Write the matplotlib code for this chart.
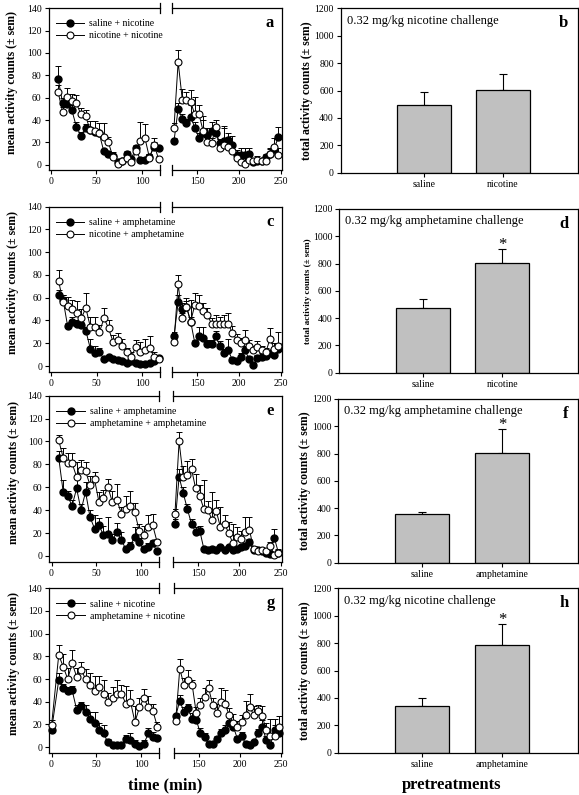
import matplotlib
matplotlib.use('Agg')
import matplotlib.pyplot as plt
import numpy as np

plt.rcParams['font.family'] = ['Liberation Serif', 'DejaVu Serif']

# ---------------- data ----------------
t_left = [8, 13, 18, 23, 28, 33, 38, 43, 48, 53, 58, 63, 68, 73, 78, 83, 88, 93, 98, 103, 108, 113, 118]
t_left_g = [0, 8, 13, 18, 23, 28, 33, 38, 43, 48, 53, 58, 63, 68, 73, 78, 83, 88, 93, 98, 103, 108, 113, 118]
t_right = [122, 127, 132, 137, 142, 147, 152, 157, 162, 167, 172, 177, 182, 187, 192, 197, 202, 207, 212, 217, 222, 227, 232, 237, 242, 247]

# panel a
a_sal_L = [77, 55, 54, 49, 34, 26, 33, 31, 29, 28, 12, 10, 8, 2, 3, 10, 5, 15, 4, 4, 7, 16, 15]
a_sal_L_err = [11, 5, 4, 4, 4, 3, 3, 3, 3, 2, 2, 2, 2, 1, 1, 2, 2, 3, 2, 2, 3, 4, 3]
a_pre_L = [65, 47, 61, 57, 55, 45, 44, 31, 30, 28, 25, 20, 7, 1, 3, 6, 2, 12, 21, 24, 6, 18, 5]
a_pre_L_err = [6, 5, 8, 6, 7, 6, 5, 8, 9, 9, 12, 5, 4, 2, 2, 4, 3, 5, 17, 12, 4, 6, 3]
a_sal_R = [21, 50, 41, 37, 43, 33, 24, 28, 27, 30, 28, 19, 21, 22, 18, 9, 9, 9, 10, 2, 3, 3, 7, 10, 14, 25]
a_sal_R_err = [3, 5, 4, 4, 10, 5, 4, 12, 6, 8, 5, 4, 12, 6, 8, 4, 6, 6, 5, 2, 2, 3, 3, 4, 4, 9]
a_pre_R = [33, 92, 58, 58, 56, 45, 45, 30, 20, 19, 34, 15, 18, 16, 12, 6, 2, 1, 4, 3, 4, 3, 3, 10, 16, 9]
a_pre_R_err = [4, 11, 10, 7, 11, 16, 8, 14, 6, 5, 6, 6, 17, 6, 6, 5, 7, 7, 5, 3, 4, 3, 3, 5, 8, 6]

# panel c
c_sal_L = [62, 58, 35, 39, 37, 36, 31, 15, 11, 12, 6, 8, 6, 5, 4, 3, 4, 3, 2, 2, 3, 4, 7]
c_sal_L_err = [5, 4, 3, 4, 3, 3, 3, 9, 7, 4, 2, 2, 2, 1, 1, 1, 1, 1, 1, 1, 1, 1, 2]
c_pre_L = [75, 56, 53, 50, 47, 42, 51, 34, 34, 30, 42, 33, 21, 23, 18, 12, 8, 17, 12, 14, 16, 8, 6]
c_pre_L_err = [9, 6, 8, 8, 10, 8, 13, 9, 9, 6, 9, 7, 6, 6, 6, 4, 4, 6, 9, 10, 10, 4, 2]
c_sal_R = [26, 56, 50, 52, 39, 20, 26, 25, 19, 19, 26, 18, 11, 14, 5, 4, 8, 14, 6, 1, 7, 8, 9, 11, 10, 15]
c_sal_R_err = [4, 6, 5, 5, 4, 3, 8, 9, 4, 4, 5, 4, 4, 10, 3, 2, 3, 4, 3, 2, 3, 3, 3, 3, 3, 5]
c_pre_R = [21, 72, 42, 52, 39, 54, 53, 48, 45, 37, 37, 37, 37, 37, 29, 23, 20, 23, 18, 14, 17, 14, 12, 24, 15, 18]
c_pre_R_err = [3, 8, 5, 8, 19, 10, 9, 7, 6, 5, 8, 6, 8, 10, 6, 5, 5, 9, 5, 4, 5, 4, 4, 9, 5, 12]

# panel e
e_sal_L = [86, 56, 52, 44, 59, 40, 56, 34, 24, 27, 18, 19, 14, 21, 14, 6, 9, 17, 12, 6, 8, 11, 4]
e_sal_L_err = [6, 10, 5, 5, 8, 5, 9, 6, 12, 6, 8, 15, 5, 8, 7, 3, 3, 8, 4, 3, 3, 3, 2]
e_pre_L = [101, 86, 81, 81, 69, 75, 74, 62, 67, 47, 51, 60, 47, 49, 37, 41, 44, 38, 22, 18, 25, 27, 12]
e_pre_L_err = [5, 8, 9, 9, 13, 9, 8, 8, 6, 9, 7, 7, 10, 14, 6, 11, 13, 8, 6, 8, 11, 10, 3]
e_sal_R = [28, 69, 55, 41, 28, 21, 22, 6, 5, 6, 5, 8, 5, 8, 5, 6, 8, 9, 12, 5, 5, 4, 3, 2, 16, 3]
e_sal_R_err = [4, 7, 5, 4, 4, 4, 4, 2, 2, 2, 2, 2, 2, 2, 2, 2, 2, 2, 3, 2, 2, 2, 2, 2, 8, 3]
e_pre_R = [37, 100, 69, 71, 76, 59, 52, 41, 40, 31, 39, 25, 28, 20, 11, 17, 15, 21, 23, 6, 4, 5, 4, 9, 1, 3]
e_pre_R_err = [4, 8, 10, 12, 9, 13, 10, 25, 8, 25, 10, 18, 8, 10, 17, 8, 7, 13, 11, 3, 2, 2, 2, 3, 1, 2]

# panel g
g_sal_L = [15, 59, 52, 49, 50, 33, 36, 31, 25, 21, 15, 12, 4, 2, 2, 2, 7, 6, 3, 1, 3, 12, 9, 8]
g_sal_L_err = [2, 6, 4, 4, 4, 4, 4, 6, 6, 10, 6, 7, 3, 2, 2, 2, 4, 6, 3, 2, 3, 5, 4, 3]
g_pre_L = [19, 81, 71, 60, 74, 62, 68, 60, 55, 49, 53, 47, 40, 43, 47, 47, 38, 40, 22, 35, 43, 35, 32, 18]
g_pre_L_err = [5, 9, 11, 10, 12, 8, 7, 9, 10, 14, 10, 12, 8, 10, 12, 8, 16, 10, 14, 8, 8, 10, 6, 4]
g_sal_R = [27, 41, 31, 34, 25, 24, 12, 9, 3, 3, 7, 12, 15, 21, 18, 7, 10, 3, 2, 4, 12, 18, 6, 2, 15, 12]
g_sal_R_err = [3, 5, 4, 4, 5, 5, 5, 3, 2, 2, 3, 4, 4, 6, 5, 3, 3, 2, 2, 2, 4, 6, 4, 2, 4, 5]
g_pre_R = [23, 69, 55, 59, 55, 30, 37, 44, 52, 37, 30, 40, 38, 28, 21, 18, 22, 28, 35, 28, 32, 27, 15, 10, 10, 18]
g_pre_R_err = [3, 9, 6, 9, 4, 5, 6, 8, 7, 6, 8, 12, 12, 6, 8, 5, 6, 13, 12, 8, 5, 9, 6, 15, 15, 9]

legend_a = ['saline + nicotine', 'nicotine + nicotine']
legend_c = ['saline + amphetamine', 'nicotine + amphetamine']
legend_e = ['saline + amphetamine', 'amphetamine + amphetamine']
legend_g = ['saline + nicotine', 'amphetamine + nicotine']

# bar panels
cats_nic = ['saline', 'nicotine']
cats_amph = ['saline', 'amphetamine']
b_vals = [495, 605]
b_err = [97, 117]
d_vals = [471, 806]
d_err = [66, 98]
f_vals = [357, 802]
f_err = [17, 178]
h_vals = [340, 786]
h_err = [61, 153]
b_sig = [False, False]
d_sig = [False, True]
f_sig = [False, True]
h_sig = [False, True]
title_nic = '0.32 mg/kg nicotine challenge'
title_amph = '0.32 mg/kg amphetamine challenge'

left_ticks = [0, 20, 40, 60, 80, 100, 120, 140]
xticks_L = [0, 50, 100]
xticks_R = [150, 200, 250]
bar_ticks = [0, 200, 400, 600, 800, 1000, 1200]

# ---------------- figure ----------------
W, H = 579, 795
fig = plt.figure(figsize=(W / 100, H / 100), dpi=100)


def box(x0, x1, ytop, ybot):
    return [x0 / W, 1 - ybot / H, (x1 - x0) / W, (ybot - ytop) / H]


def style(ax):
    ax.set_facecolor('none')
    ax.tick_params(direction='out', length=3, width=0.8, labelsize=7, pad=2)
    for s in ax.spines.values():
        s.set_linewidth(0.9)


def time_panel(ytop, ybot, xl, xr, tl, tr, sl, sle, pl, ple, sr, sre, pr, pre, labels, letter):
    axL = fig.add_axes(box(xl[0], xl[1], ytop, ybot))
    axR = fig.add_axes(box(xr[0], xr[1], ytop, ybot))
    handles = None
    for ax, t, s, se, p, pe in [(axL, tl, sl, sle, pl, ple), (axR, tr, sr, sre, pr, pre)]:
        style(ax)
        ax.errorbar(t, p, yerr=[np.zeros(len(pe)), pe], fmt='none', ecolor='k',
                    elinewidth=0.7, capsize=2, capthick=0.7, zorder=2)
        ax.errorbar(t, s, yerr=[np.zeros(len(se)), se], fmt='none', ecolor='k',
                    elinewidth=0.7, capsize=2, capthick=0.7, zorder=2)
        h1, = ax.plot(t, s, '-', color='k', lw=0.7, marker='o', ms=5, mfc='k', mec='k',
                      zorder=3, clip_on=False)
        h2, = ax.plot(t, p, '-', color='k', lw=0.7, marker='o', ms=5, mfc='white', mec='k',
                      mew=0.8, zorder=4, clip_on=False)
        if handles is None:
            handles = [h1, h2]
        ax.set_ylim(-5, 140)
    axL.set_xlim(-2.5, 119.5)
    axR.set_xlim(120, 251)
    axL.spines['right'].set_visible(False)
    axR.spines['left'].set_visible(False)
    axL.set_yticks(left_ticks)
    axL.set_xticks(xticks_L)
    axR.set_xticks(xticks_R)
    axR.tick_params(left=False, labelleft=False)
    # break marks
    for ax, xx in [(axL, 1.0), (axR, 0.0)]:
        ax.plot([xx, xx], [-0.03, 0.03], transform=ax.transAxes, color='k', lw=0.9, clip_on=False)
        ax.plot([xx, xx], [0.97, 1.03], transform=ax.transAxes, color='k', lw=0.9, clip_on=False)
    axL.set_ylabel('mean activity counts (± sem)', fontweight='bold', fontsize=8.5)
    axL.yaxis.set_label_coords(-0.27, 0.54)
    axL.legend(handles, labels, loc='upper left', bbox_to_anchor=(0.03, 0.955), frameon=False,
               fontsize=7, handlelength=2.9, handletextpad=0.5, labelspacing=0.3,
               borderaxespad=0.2, borderpad=0.2)
    axR.text(0.93, 0.91, letter, transform=axR.transAxes, ha='right', va='center',
             fontsize=12, fontweight='bold')
    return axL, axR


def bar_panel(ytop, ybot, x0, x1, cats, vals, errs, sig, title, tsize, letter, ylsize=8.5):
    ax = fig.add_axes(box(x0, x1, ytop, ybot))
    style(ax)
    x = np.arange(len(cats))
    ax.bar(x, vals, width=0.68, color='#c0c0c0', edgecolor='k', linewidth=0.9, zorder=2)
    ax.errorbar(x, vals, yerr=[np.zeros(len(errs)), errs], fmt='none', ecolor='k',
                elinewidth=0.8, capsize=3, capthick=0.8, zorder=1)
    ax.set_xlim(-1.05, 1.95)
    ax.set_ylim(0, 1200)
    ax.set_yticks(bar_ticks)
    ax.set_xticks(x)
    ax.set_xticklabels(cats, fontsize=7)
    ax.text(0.025, 0.925, title, transform=ax.transAxes, fontsize=tsize, va='center', ha='left')
    ax.text(0.96, 0.91, letter, transform=ax.transAxes, ha='right', va='center',
            fontsize=12, fontweight='bold')
    for i, s in enumerate(sig):
        if s:
            ax.text(x[i], vals[i] + errs[i] - 30, '*', ha='center', va='bottom', fontsize=12)
    ax.set_ylabel('total activity counts (± sem)', fontweight='bold', fontsize=ylsize)
    ax.yaxis.set_label_coords(-0.115, 0.5)
    return ax


time_panel(8.3, 170.3, (48.5, 160), (172.3, 281.7), t_left, t_right,
           a_sal_L, a_sal_L_err, a_pre_L, a_pre_L_err, a_sal_R, a_sal_R_err, a_pre_R, a_pre_R_err,
           legend_a, 'a')
time_panel(206.7, 371.7, (49.0, 160), (172.3, 281.7), t_left, t_right,
           c_sal_L, c_sal_L_err, c_pre_L, c_pre_L_err, c_sal_R, c_sal_R_err, c_pre_R, c_pre_R_err,
           legend_c, 'c')
time_panel(395.7, 561.7, (49.3, 158.5), (173.3, 281.7), t_left, t_right,
           e_sal_L, e_sal_L_err, e_pre_L, e_pre_L_err, e_sal_R, e_sal_R_err, e_pre_R, e_pre_R_err,
           legend_e, 'e')
time_panel(588.3, 752.7, (49.3, 158.7), (174.0, 282.0), t_left_g, t_right,
           g_sal_L, g_sal_L_err, g_pre_L, g_pre_L_err, g_sal_R, g_sal_R_err, g_pre_R, g_pre_R_err,
           legend_g, 'g')

bar_panel(8.3, 172.7, 340.7, 578, cats_nic, b_vals, b_err, b_sig, title_nic, 9, 'b')
bar_panel(209, 372.7, 339.3, 578, cats_nic, d_vals, d_err, d_sig, title_amph, 9, 'd', ylsize=6.5)
bar_panel(399, 562.7, 338.3, 578, cats_amph, f_vals, f_err, f_sig, title_amph, 9, 'f')
bar_panel(588.3, 752.7, 338.3, 578, cats_amph, h_vals, h_err, h_sig, title_nic, 9, 'h')

fig.text(165 / W, 1 - 785 / H, 'time (min)', ha='center', va='center', fontsize=12, fontweight='bold')
fig.text(452 / W, 1 - 785 / H, 'pretreatments', ha='center', va='center', fontsize=12, fontweight='bold')

fig.savefig('out.png', dpi=100)
